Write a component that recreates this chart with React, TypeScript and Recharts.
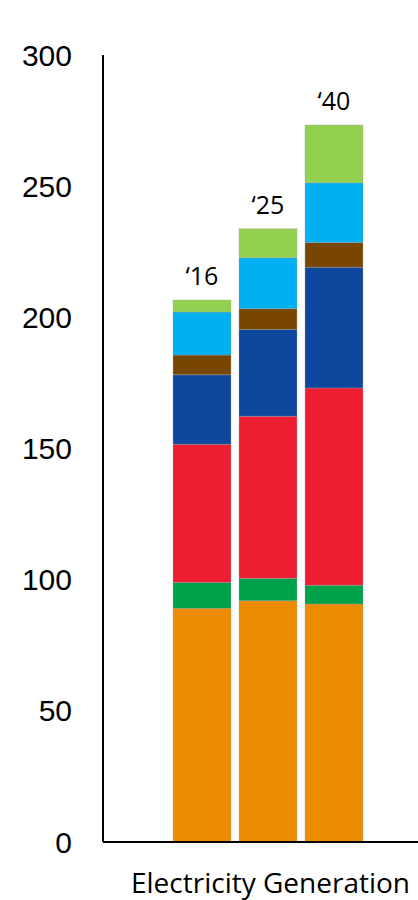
import React from 'react';
import { BarChart, Bar, XAxis, YAxis, LabelList } from 'recharts';

const years = ["‘16", "‘25", "‘40"];
const coal = [89.1, 92.0, 90.7];
const oil = [9.8, 8.5, 7.2];
const gas = [52.7, 61.8, 75.2];
const nuclear = [26.5, 33.1, 46.0];
const bioOther = [7.5, 7.9, 9.4];
const hydro = [16.4, 19.4, 22.8];
const windSolar = [4.6, 11.1, 22.0];
const yTicks = [0, 50, 100, 150, 200, 250, 300];
const categoryLabel = 'Electricity Generation';

const data = years.map((year, i) => ({
  year,
  coal: coal[i],
  oil: oil[i],
  gas: gas[i],
  nuclear: nuclear[i],
  bioOther: bioOther[i],
  hydro: hydro[i],
  windSolar: windSolar[i],
}));

const series = [
  { key: 'coal', color: '#EC8B00' },
  { key: 'oil', color: '#00A14B' },
  { key: 'gas', color: '#EE1D31' },
  { key: 'nuclear', color: '#0E479E' },
  { key: 'bioOther', color: '#784600' },
  { key: 'hydro', color: '#00B0F0' },
  { key: 'windSolar', color: '#92D050' },
];

const AxisLabel = (props: any) => {
  const vb = props.viewBox || {};
  const cx = vb.x + vb.width / 2 + 10;
  return (
    <text
      x={cx}
      y={vb.y + 51}
      textAnchor="middle"
      fontFamily="'Open Sans', sans-serif"
      fontSize={28}
      fill="#000"
    >
      {categoryLabel}
    </text>
  );
};

export default function App() {
  return (
    <div style={{ position: 'absolute', left: 0, top: 0, width: 418, height: 900, background: '#fff' }}>
      <BarChart
        width={418}
        height={900}
        data={data}
        margin={{ top: 55, right: 0, bottom: 0, left: 0 }}
        barSize={58}
      >
        <XAxis
          dataKey="year"
          tick={false}
          tickLine={false}
          axisLine={{ stroke: '#000', strokeWidth: 2 }}
          height={58}
          padding={{ left: 66, right: 51 }}
          label={<AxisLabel />}
        />
        <YAxis
          domain={[0, 300]}
          ticks={yTicks}
          width={103}
          tickLine={false}
          tickSize={0}
          tickMargin={31}
          axisLine={{ stroke: '#000', strokeWidth: 2 }}
          tick={{ fill: '#000', fontSize: 30, fontFamily: "'Liberation Sans', Arial, sans-serif" }}
        />
        {series.map((s, idx) => (
          <Bar
            key={s.key}
            dataKey={s.key}
            stackId="a"
            fill={s.color}
            stroke="rgba(160,160,160,0.35)"
            strokeWidth={1}
            isAnimationActive={false}
          >
            {idx === series.length - 1 && (
              <LabelList
                dataKey="year"
                position="top"
                offset={15}
                fill="#000"
                fontSize={25}
                fontFamily="'Open Sans', sans-serif"
              />
            )}
          </Bar>
        ))}
      </BarChart>
    </div>
  );
}
